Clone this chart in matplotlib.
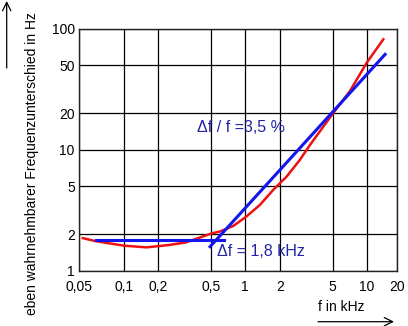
import numpy as np
import matplotlib
matplotlib.use("Agg")
import matplotlib.pyplot as plt
import matplotlib.ticker as mticker
from matplotlib.patches import FancyArrowPatch

plt.rcParams["font.family"] = ["Liberation Sans", "DejaVu Sans"]

# frequency axis (kHz) - the printed grid is not an exact log grid,
# so the scale follows the positions of its gridlines
XTICKS = [0.05, 0.1, 0.2, 0.5, 1, 2, 5, 10, 20]
XTICK_LABELS = ["0,05", "0,1", "0,2", "0,5", "1", "2", "5", "10", "20"]
XGRID_POS = [79, 124.3, 158, 211, 245, 279.7, 332.7, 366.7, 396.7]

YTICKS = [1, 2, 5, 10, 20, 50, 100]
YTICK_LABELS = ["1", "2", "5", "10", "20", "50", "100"]

# measured just-noticeable frequency difference (Hz)
f_meas = [0.053, 0.064, 0.078, 0.10, 0.158, 0.24, 0.32, 0.40, 0.51, 0.60,
          0.79, 1.03, 1.35, 1.76, 2.26, 2.84, 3.38, 5.06, 7.1, 10, 14.7]
df_meas = [1.86, 1.76, 1.69, 1.61, 1.56, 1.63, 1.71, 1.86, 2.04, 2.11,
           2.35, 2.81, 3.51, 4.67, 6.03, 8.29, 11.0, 20.2, 30.6, 52.6, 82.2]

# approximations: constant 1,8 below ~0.6 kHz, proportional above
f_const = [0.065, 0.65]
df_const = [1.8, 1.8]
f_prop = [0.492, 15.3]
df_prop = [1.58, 61.7]

_logt = np.log10(XTICKS)


def fwd(x):
    x = np.clip(np.asarray(x, dtype=float), 1e-6, None)
    return np.interp(np.log10(x), _logt, XGRID_POS)


def inv(p):
    return 10 ** np.interp(p, XGRID_POS, _logt)


W, H = 408, 326
fig = plt.figure(figsize=(W / 100, H / 100), dpi=100)
ax = fig.add_axes([79 / W, 1 - 270.7 / H, (396.7 - 79) / W, (270.7 - 29) / H])

ax.set_xscale("function", functions=(fwd, inv))
ax.set_yscale("log")
ax.set_xlim(0.05, 20)
ax.set_ylim(1, 100)

ax.plot(f_meas, df_meas, color="#ee1111", lw=1.8, zorder=3)
ax.plot(f_const, df_const, color="#1515ee", lw=2.2, zorder=4)
ax.plot(f_prop, df_prop, color="#1515ee", lw=2.2, zorder=4)

ax.set_xticks(XTICKS)
ax.set_xticklabels(XTICK_LABELS)
ax.xaxis.set_minor_locator(mticker.NullLocator())
ax.set_yticks(YTICKS)
ax.set_yticklabels(YTICK_LABELS)
ax.yaxis.set_minor_locator(mticker.NullLocator())
ax.tick_params(axis="both", length=0, labelsize=10)
ax.tick_params(axis="x", pad=7)
ax.tick_params(axis="y", pad=3)
ax.grid(True, color="black", lw=0.9)
for s in ax.spines.values():
    s.set_color("#222222")
    s.set_linewidth(1.0)

ax.text(0.39, 15.3, "Δf / f =3,5 %", color="#2323a6", fontsize=11.5,
        ha="left", va="center")
ax.text(0.56, 1.44, "Δf = 1,8 kHz", color="#2323a6", fontsize=11.5,
        ha="left", va="center")

fig.text(32 / W, 1 - 12 / H, "eben wahrnehmbarer Frequenzunterschied in Hz",
         rotation=90, ha="center", va="top", fontsize=10)
fig.text(318 / W, 1 - 306.7 / H, "f in kHz", ha="left", va="center", fontsize=10)

# axis arrows
fig.add_artist(FancyArrowPatch((6.7 / W, 1 - 68 / H), (6.7 / W, 1 - 1 / H),
                               transform=fig.transFigure, arrowstyle="->,head_length=6,head_width=3",
                               color="black", lw=0.9, shrinkA=0, shrinkB=0))
fig.add_artist(FancyArrowPatch((318 / W, 1 - 321.7 / H), (394 / W, 1 - 321.7 / H),
                               transform=fig.transFigure, arrowstyle="->,head_length=6,head_width=3",
                               color="black", lw=0.9, shrinkA=0, shrinkB=0))

fig.savefig("out.png", dpi=100)
